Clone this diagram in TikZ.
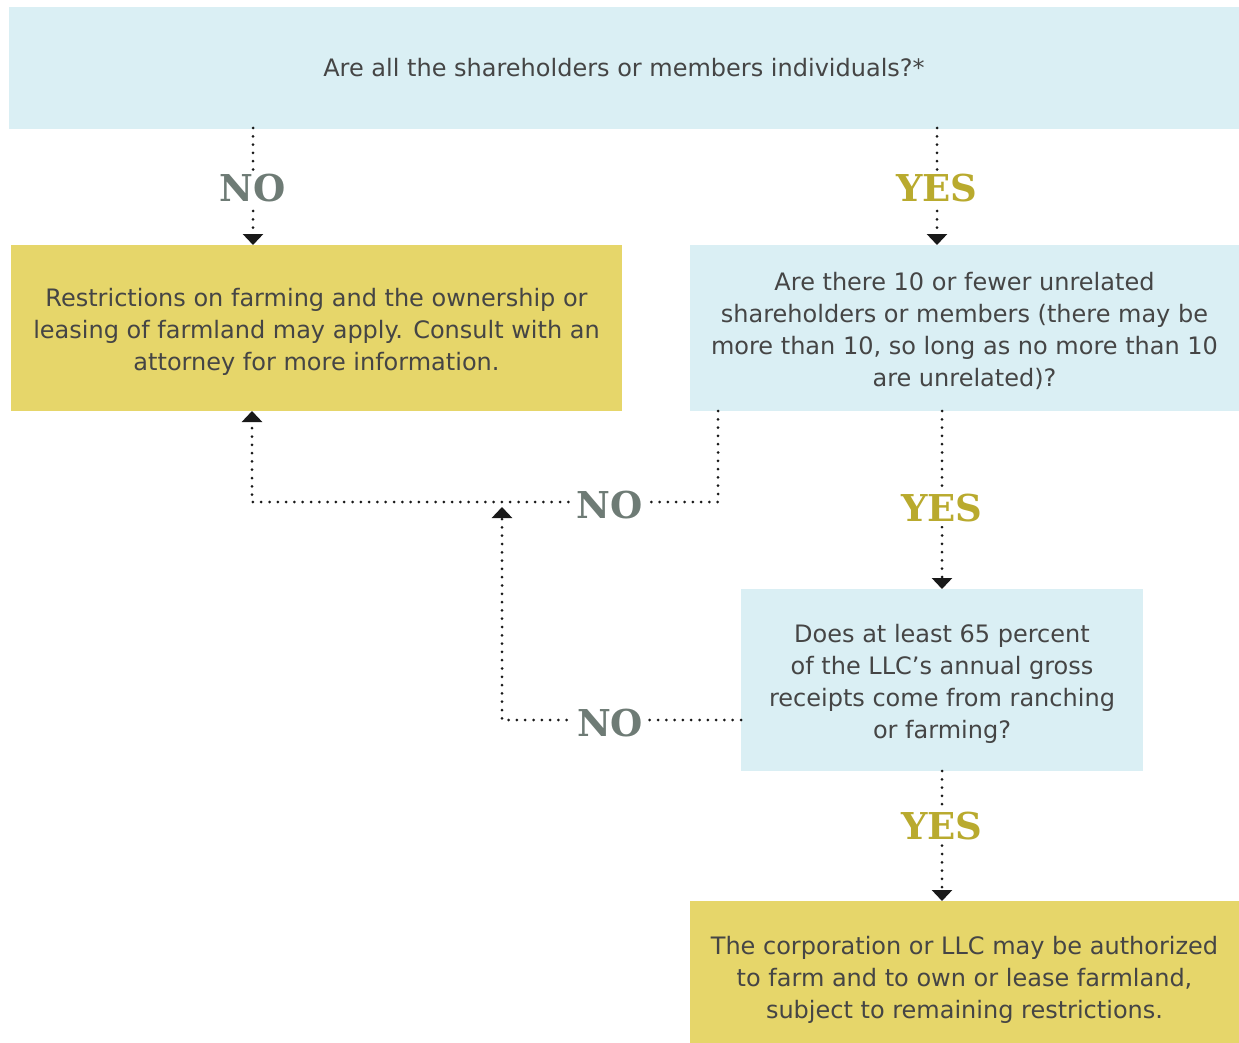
\documentclass[tikz,border=0pt]{standalone}
\usepackage{fontspec}
\setmainfont{DejaVu Sans}
\newfontfamily\labfont{DejaVu Serif}
\usetikzlibrary{arrows.meta}
\definecolor{qblue}{HTML}{DAEFF4}
\definecolor{qyellow}{HTML}{E6D66A}
\definecolor{txtgray}{HTML}{454545}
\definecolor{nogray}{HTML}{6E7B75}
\definecolor{yesolive}{HTML}{B9AA2E}
\newcommand{\lowstrut}{\rule{0pt}{25pt}}
\tikzset{
  x=1pt, y=1pt,
  box/.style={rectangle, inner sep=0pt, draw=none, align=center, text=txtgray,
    font=\fontsize{24}{32}\selectfont},
  bluebox/.style={box, fill=qblue},
  yellowbox/.style={box, fill=qyellow},
  dots/.style={line width=3pt, line cap=round, dash pattern=on 0pt off 8.3pt, black!90},
  arr/.style={-{Triangle[width=20pt,length=11pt]}},
  lab/.style={fill=white, inner sep=4pt, yshift=-3pt, font=\labfont\bfseries\fontsize{37}{40}\selectfont},
  nolab/.style={lab, text=nogray},
  yeslab/.style={lab, text=yesolive},
}
\begin{document}
\begin{tikzpicture}
\useasboundingbox (0,0) rectangle (1239,-1043);
% boxes
\node[bluebox, minimum width=1230pt, minimum height=122pt] (top) at (624,-68)
  {Are all the shareholders or members individuals?*};
\node[yellowbox, minimum width=611pt, minimum height=166pt] (left) at (316.5,-328)
  {\lowstrut Restrictions on farming and the ownership or\\leasing of farmland may apply. Consult with an\\attorney for more information.};
\node[bluebox, minimum width=549pt, minimum height=166pt] (right) at (964.5,-328)
  {\lowstrut Are there 10 or fewer unrelated\\shareholders or members (there may be\\more than 10, so long as no more than 10\\are unrelated)?};
\node[bluebox, minimum width=402pt, minimum height=182pt] (mid) at (942,-680)
  {\lowstrut Does at least 65 percent\\of the LLC's annual gross\\receipts come from ranching\\or farming?};
\node[yellowbox, minimum width=549pt, minimum height=150pt] (bot) at (964.5,-976)
  {\lowstrut The corporation or LLC may be authorized\\to farm and to own or lease farmland,\\subject to remaining restrictions.};
% coordinates
\coordinate (a1) at (253,-128);
\coordinate (a2) at (253,-245);
\coordinate (b1) at (937,-128);
\coordinate (b2) at (937,-245);
\coordinate (c1) at (718,-411);
\coordinate (c2) at (718,-502);
\coordinate (c3) at (252,-502);
\coordinate (c4) at (252,-411);
\coordinate (d1) at (942,-411);
\coordinate (d2) at (942,-589);
\coordinate (e1) at (741,-720);
\coordinate (e2) at (502,-720);
\coordinate (e3) at (502,-507);
\coordinate (f1) at (942,-771);
\coordinate (f2) at (942,-901);
% connectors
\draw[dots, arr] (a1) -- node[nolab, yshift=1pt]{NO} (a2);
\draw[dots, arr] (b1) -- node[yeslab, yshift=1pt]{YES} (b2);
\draw[dots, arr] (c1) -- (c2) -- node[nolab, pos=0.233]{NO} (c3) -- (c4);
\draw[dots, arr] (d1) -- node[yeslab, pos=0.53]{YES} (d2);
\draw[dots, arr] (e1) -- node[nolab, pos=0.548]{NO} (e2) -- (e3);
\draw[dots, arr] (f1) -- node[yeslab, pos=0.4]{YES} (f2);
\end{tikzpicture}
\end{document}
